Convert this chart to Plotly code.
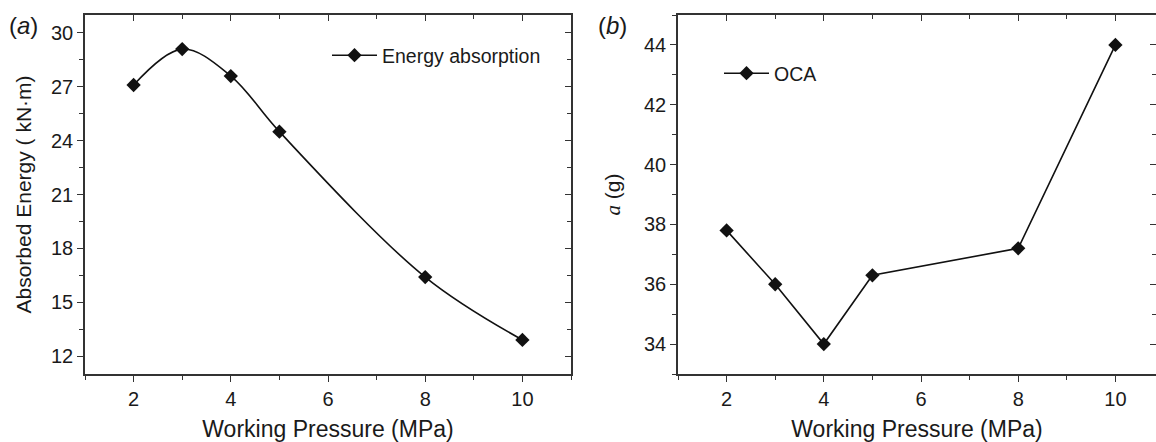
import plotly.graph_objects as go

pressure = [2, 3, 4, 5, 8, 10]
energy = [27.1, 29.1, 27.6, 24.5, 16.4, 12.9]
oca = [37.8, 36.0, 34.0, 36.3, 37.2, 44.0]

W, H = 1156, 442
FONT = "Liberation Sans, Arial, sans-serif"
TXT = "#1a1a1a"
AX = "#333333"

fig = go.Figure()
fig.add_trace(go.Scatter(
    x=pressure, y=energy, mode="lines+markers", name="Energy absorption",
    line=dict(color="#111111", width=1.6, shape="spline", smoothing=1.0),
    marker=dict(symbol="diamond", size=11, color="#111111"),
    xaxis="x", yaxis="y", legend="legend"))
fig.add_trace(go.Scatter(
    x=pressure, y=oca, mode="lines+markers", name="OCA",
    line=dict(color="#111111", width=1.6),
    marker=dict(symbol="diamond", size=11, color="#111111"),
    xaxis="x2", yaxis="y2", legend="legend2"))
# empty traces so the mirrored (inside-tick) axes get drawn
for xa, ya in [("x3", "y3"), ("x4", "y4")]:
    fig.add_trace(go.Scatter(x=[], y=[], xaxis=xa, yaxis=ya, showlegend=False, hoverinfo="skip"))

dom1 = [85 / W, 571 / W]
dom2 = [678 / W, 1.0]
xr1 = [1, 11]
xr2 = [1, 1 + (W - 678) / 48.6]
yr1 = [11, 31]
yr2 = [33, 45]

tickfont = dict(family=FONT, size=20, color=TXT)
xtitlefont = dict(family=FONT, size=23, color=TXT)
ytitlefont = dict(family=FONT, size=21, color=TXT)

def base_x(dom, rng, side="bottom", ticks="outside", labels=True, anchor="y", title=None, overlay=None):
    d = dict(domain=dom, range=rng, side=side, showline=True, linecolor=AX, linewidth=1.5,
             ticks=ticks, ticklen=6, tickwidth=1.3, tickcolor=AX, tick0=0, dtick=2,
             showticklabels=labels, tickfont=tickfont, showgrid=False, zeroline=False,
             anchor=anchor, minor=dict(dtick=1, tick0=0, ticks=ticks, ticklen=4, tickwidth=1.1, tickcolor=AX))
    if title:
        d["title"] = dict(text=title, font=xtitlefont, standoff=14)
    if overlay:
        d["overlaying"] = overlay
    return d

def base_y(dom, rng, dt, mdt, side="left", ticks="outside", labels=True, anchor="x", title=None,
           overlay=None, showline=True, standoff=16):
    d = dict(domain=dom, range=rng, side=side, showline=showline, linecolor=AX, linewidth=1.5,
             ticks=ticks, ticklen=6, tickwidth=1.3, tickcolor=AX, tick0=0, dtick=dt,
             showticklabels=labels, tickfont=tickfont, showgrid=False, zeroline=False,
             anchor=anchor, minor=dict(dtick=mdt, tick0=0, ticks=ticks, ticklen=4, tickwidth=1.1, tickcolor=AX))
    if title:
        d["title"] = dict(text=title, font=ytitlefont, standoff=standoff)
    if overlay:
        d["overlaying"] = overlay
    return d

fig.update_layout(
    width=W, height=H,
    margin=dict(l=0, r=0, t=15, b=68),
    paper_bgcolor="white", plot_bgcolor="white",
    font=dict(family=FONT, color=TXT),
    xaxis=base_x(dom1, xr1, anchor="y", title="Working Pressure (MPa)"),
    yaxis=base_y([0, 1], yr1, 3, 1.5, anchor="x", title="Absorbed Energy ( kN·m)", standoff=14),
    xaxis3=base_x(dom1, xr1, side="top", ticks="inside", labels=False, anchor="y3", overlay="x"),
    yaxis3=base_y([0, 1], yr1, 3, 1.5, side="right", ticks="inside", labels=False, anchor="x3", overlay="y"),
    xaxis2=base_x(dom2, xr2, anchor="y2", title="Working Pressure (MPa)"),
    yaxis2=base_y([0, 1], yr2, 2, 1, anchor="x2",
                  title="<i><span style='font-family:Liberation Serif, Times New Roman, serif'>a</span></i> (g)",
                  standoff=18),
    xaxis4=base_x(dom2, xr2, side="top", ticks="inside", labels=False, anchor="y4", overlay="x2"),
    yaxis4=base_y([0, 1], yr2, 2, 1, side="right", ticks="inside", labels=False, anchor="x4",
                  overlay="y2", showline=False),
    legend=dict(x=327 / W, y=1 - (36 - 15) / 359, xanchor="left", yanchor="top",
                bgcolor="rgba(0,0,0,0)", font=dict(family=FONT, size=19.5, color=TXT), itemwidth=45),
    legend2=dict(x=719 / W, y=1 - (54 - 15) / 359, xanchor="left", yanchor="top",
                 bgcolor="rgba(0,0,0,0)", font=dict(family=FONT, size=19.5, color=TXT), itemwidth=45),
    showlegend=True,
    annotations=[
        dict(text="(<i>a</i>)", x=7 / W, y=1 - (26 - 15) / 359, xref="paper", yref="paper",
             xanchor="left", yanchor="middle", showarrow=False, font=dict(family=FONT, size=24, color=TXT)),
        dict(text="(<i>b</i>)", x=596 / W, y=1 - (25 - 15) / 359, xref="paper", yref="paper",
             xanchor="left", yanchor="middle", showarrow=False, font=dict(family=FONT, size=24, color=TXT)),
    ],
)

fig.write_html("out.html")
